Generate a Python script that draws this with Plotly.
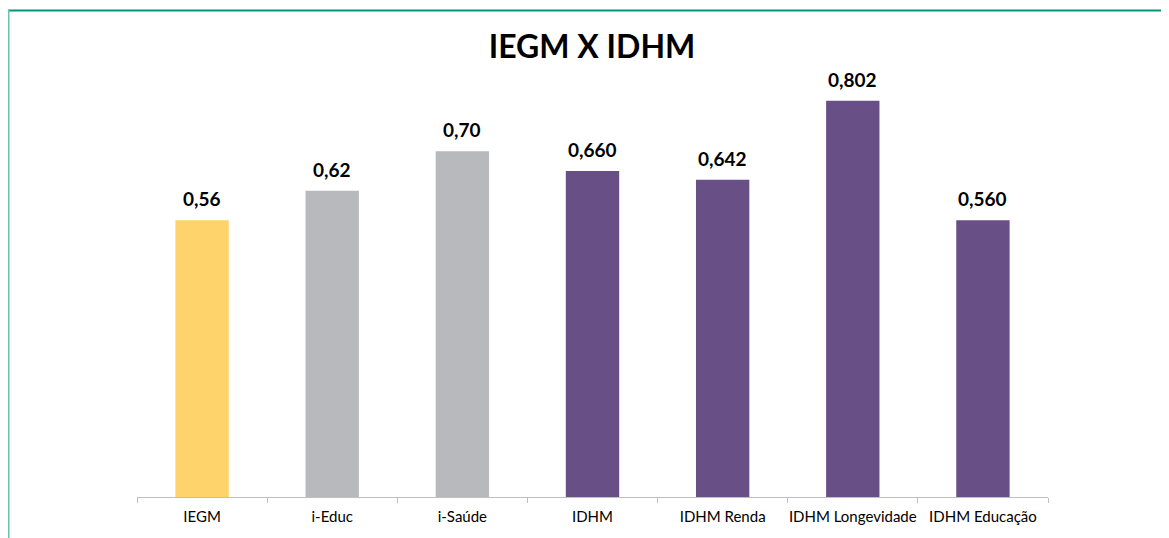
import plotly.graph_objects as go

categories = ["IEGM", "i-Educ", "i-Saúde", "IDHM", "IDHM Renda", "IDHM Longevidade", "IDHM Educação"]
values = [0.56, 0.62, 0.70, 0.660, 0.642, 0.802, 0.560]
decimals = [2, 2, 2, 3, 3, 3, 3]
colors = ["#FFD36B", "#B8B9BC", "#B8B9BC", "#684F86", "#684F86", "#684F86", "#684F86"]

labels = [f"{v:.{d}f}".replace(".", ",") for v, d in zip(values, decimals)]

OFF = 8  # page body margin
W, H = 1169, 538
ml, mt = 137 - OFF, 50 - OFF
plot_right = 1048 - OFF
axis_y = 497 - OFF
mr = W - plot_right
mb = H - axis_y
ph = H - mt - mb
pw = W - ml - mr
ymax = ph / 494.0

fig = go.Figure(go.Bar(
    x=categories, y=values, marker_color=colors, marker_line_width=0,
    width=0.41, hoverinfo="skip",
))

for c, v, t in zip(categories, values, labels):
    fig.add_annotation(x=c, y=v, text=f"<b>{t}</b>", showarrow=False,
                       yanchor="bottom", yshift=8,
                       font=dict(size=19, color="#000000", family="Lato"))

def px_x(p):
    return (p - OFF - ml) / pw

def px_y(p):
    return (axis_y - (p - OFF)) / ph

teal = "#00967A"
fig.add_shape(type="line", xref="paper", yref="paper",
              x0=px_x(7), x1=px_x(1200), y0=px_y(10.5), y1=px_y(10.5),
              line=dict(color=teal, width=2))
fig.add_shape(type="line", xref="paper", yref="paper",
              x0=px_x(8.5), x1=px_x(8.5), y0=px_y(10), y1=px_y(560),
              line=dict(color="#6CC3A6", width=2))

fig.update_layout(
    width=W, height=H,
    margin=dict(l=ml, r=mr, t=mt, b=mb, autoexpand=False),
    paper_bgcolor="white", plot_bgcolor="white",
    title=dict(text="<b>IEGM X IDHM</b>", x=(592 - OFF) / W, xanchor="center",
               y=1 - (47 - OFF) / H, yanchor="middle",
               font=dict(size=32, color="#000000", family="Lato")),
    showlegend=False,
    xaxis=dict(showline=True, linecolor="#BFBFBF", linewidth=1,
               ticks="outside", tickson="boundaries", ticklen=5, tickcolor="#BFBFBF",
               ticklabelstandoff=6, tickangle=0, automargin=False,
               tickfont=dict(size=15, color="#000000", family="Lato"),
               showgrid=False, fixedrange=True),
    yaxis=dict(range=[0, ymax], visible=False, showgrid=False, fixedrange=True),
)

fig.write_html("out.html")
